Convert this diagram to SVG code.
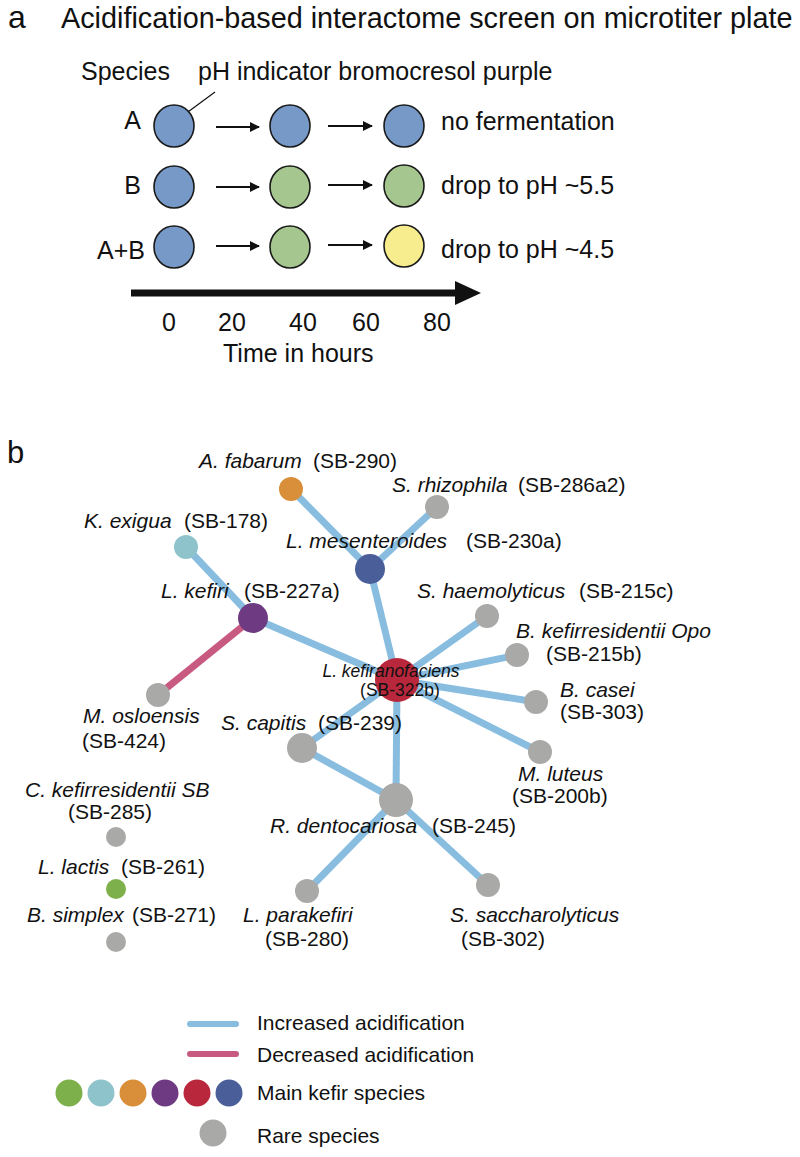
<svg xmlns="http://www.w3.org/2000/svg" width="800" height="1157" viewBox="0 0 800 1157">
<defs>
<style>
text{font-family:"Liberation Sans",Arial,sans-serif;fill:#111}
.t{font-size:25px}
.g{font-size:21px}
.i{font-style:italic}
.well{stroke:#1a1a1a;stroke-width:1.6}
.blue{fill:#7799c8}.green{fill:#a6c68f}.yellow{fill:#f7ec8e}
.inc{stroke:#88bde0;stroke-width:7;fill:none}
.dec{stroke:#c85a82;stroke-width:7;fill:none}
.sm{stroke:#111;stroke-width:2}
.rare{fill:#a9a9a7}
</style>
<marker id="ah" viewBox="0 0 10 10" refX="9" refY="5" markerWidth="5" markerHeight="5" orient="auto" markerUnits="strokeWidth">
<path d="M0,0 L10,5 L0,10 z" fill="#111"/>
</marker>
</defs>
<rect width="800" height="1157" fill="#fff"/>

<!-- Panel a -->
<g id="panel-a">
<text x="8" y="28" style="font-size:32px">a</text>
<text x="61" y="28" style="font-size:28.8px">Acidification-based interactome screen on microtiter plate</text>
<text class="t" x="81" y="80">Species</text>
<text class="t" x="198" y="80">pH indicator bromocresol purple</text>
<line x1="215" y1="92" x2="173" y2="123" stroke="#111" stroke-width="1.2"/>
</g>

<g id="row-A">
<text class="t" x="141" y="129" text-anchor="end">A</text>
<ellipse class="well blue" cx="174" cy="126" rx="20" ry="21"/>
<ellipse class="well blue" cx="290" cy="126" rx="20" ry="21"/>
<ellipse class="well blue" cx="404" cy="126" rx="20" ry="21"/>
<text class="t" x="441" y="130">no fermentation</text>
</g>
<g id="row-B">
<text class="t" x="141" y="194" text-anchor="end">B</text>
<ellipse class="well blue" cx="174" cy="187" rx="20" ry="21"/>
<ellipse class="well green" cx="290" cy="187" rx="20" ry="21"/>
<ellipse class="well green" cx="404" cy="186" rx="20" ry="21"/>
<text class="t" x="441" y="194">drop to pH ~5.5</text>
</g>
<g id="row-AB">
<text class="t" x="145" y="259" text-anchor="end">A+B</text>
<ellipse class="well blue" cx="174" cy="247" rx="20" ry="21"/>
<ellipse class="well green" cx="290" cy="247" rx="20" ry="21"/>
<ellipse class="well yellow" cx="404" cy="246" rx="20" ry="21"/>
<text class="t" x="441" y="258">drop to pH ~4.5</text>
</g>
<g id="row-arrows">
<line class="sm" x1="216" y1="127" x2="259" y2="127" marker-end="url(#ah)"/>
<line class="sm" x1="328" y1="126" x2="372" y2="126" marker-end="url(#ah)"/>
<line class="sm" x1="216" y1="187" x2="259" y2="187" marker-end="url(#ah)"/>
<line class="sm" x1="328" y1="185" x2="372" y2="185" marker-end="url(#ah)"/>
<line class="sm" x1="216" y1="246" x2="259" y2="246" marker-end="url(#ah)"/>
<line class="sm" x1="328" y1="245" x2="372" y2="245" marker-end="url(#ah)"/>
</g>
<g id="time-axis">
<line x1="131" y1="293" x2="458" y2="293" stroke="#111" stroke-width="7"/>
<polygon points="455,281 481,293 455,305" fill="#111"/>
<text class="t" x="169" y="331" text-anchor="middle">0</text>
<text class="t" x="232" y="331" text-anchor="middle">20</text>
<text class="t" x="303" y="331" text-anchor="middle">40</text>
<text class="t" x="366" y="331" text-anchor="middle">60</text>
<text class="t" x="437" y="331" text-anchor="middle">80</text>
<text class="t" x="223" y="362">Time in hours</text>
</g>

<!-- Panel b -->
<text x="7" y="463" style="font-size:31px">b</text>

<g id="connectors">
<line class="inc" x1="291" y1="489" x2="370" y2="569"/>
<line class="inc" x1="437" y1="507" x2="370" y2="569"/>
<line class="inc" x1="186" y1="547" x2="253" y2="618"/>
<line class="inc" x1="253" y1="618" x2="397" y2="680"/>
<line class="inc" x1="370" y1="569" x2="397" y2="680"/>
<line class="dec" x1="158" y1="695" x2="253" y2="618"/>
<line class="inc" x1="397" y1="680" x2="487" y2="616"/>
<line class="inc" x1="397" y1="680" x2="517" y2="655"/>
<line class="inc" x1="397" y1="680" x2="536" y2="702"/>
<line class="inc" x1="397" y1="680" x2="540" y2="752"/>
<line class="inc" x1="397" y1="680" x2="302" y2="748"/>
<line class="inc" x1="397" y1="680" x2="396" y2="800"/>
<line class="inc" x1="302" y1="748" x2="396" y2="800"/>
<line class="inc" x1="396" y1="800" x2="307" y2="891"/>
<line class="inc" x1="396" y1="800" x2="488" y2="885"/>
</g>

<g id="n-afabarum">
<circle cx="291" cy="489" r="12" fill="#d98f3a"/>
<text class="g" y="468"><tspan x="199" class="i">A. fabarum</tspan><tspan x="313">(SB-290)</tspan></text>
</g>
<g id="n-srhizophila">
<circle class="rare" cx="437" cy="507" r="12"/>
<text class="g" y="492"><tspan x="392" class="i">S. rhizophila</tspan><tspan x="518">(SB-286a2)</tspan></text>
</g>
<g id="n-kexigua">
<circle cx="186" cy="547" r="12" fill="#8fc3cc"/>
<text class="g" y="528"><tspan x="84" class="i">K. exigua</tspan><tspan x="184">(SB-178)</tspan></text>
</g>
<g id="n-lmesenteroides">
<circle cx="370" cy="569" r="15" fill="#4a5e9a"/>
<text class="g" y="548"><tspan x="286" class="i">L. mesenteroides</tspan><tspan x="466">(SB-230a)</tspan></text>
</g>
<g id="n-lkefiri">
<circle cx="253" cy="618" r="15" fill="#6e3a82"/>
<text class="g" y="598"><tspan x="161" class="i">L. kefiri</tspan><tspan x="244">(SB-227a)</tspan></text>
</g>
<g id="n-mosloensis">
<circle class="rare" cx="158" cy="695" r="12"/>
<text class="g" x="83" y="723" font-style="italic">M. osloensis</text>
<text class="g" x="82" y="748">(SB-424)</text>
</g>
<g id="n-lkefiranofaciens">
<circle cx="397" cy="680" r="22" fill="#b8273b"/>
<text x="391" y="677" text-anchor="middle" style="font-size:17.5px;font-style:italic">L. kefiranofaciens</text>
<text x="400" y="696" text-anchor="middle" style="font-size:17.5px">(SB-322b)</text>
</g>
<g id="n-shaemolyticus">
<circle class="rare" cx="487" cy="616" r="12"/>
<text class="g" y="598"><tspan x="417" class="i">S. haemolyticus</tspan><tspan x="579">(SB-215c)</tspan></text>
</g>
<g id="n-bkefirresidentii-opo">
<circle class="rare" cx="517" cy="655" r="12"/>
<text class="g i" x="516" y="638">B. kefirresidentii Opo</text>
<text class="g" x="546" y="661">(SB-215b)</text>
</g>
<g id="n-bcasei">
<circle class="rare" cx="536" cy="702" r="12"/>
<text class="g i" x="560" y="697">B. casei</text>
<text class="g" x="560" y="719">(SB-303)</text>
</g>
<g id="n-mluteus">
<circle class="rare" cx="540" cy="752" r="12"/>
<text class="g i" x="518" y="781">M. luteus</text>
<text class="g" x="512" y="803">(SB-200b)</text>
</g>
<g id="n-scapitis">
<circle class="rare" cx="302" cy="748" r="15"/>
<text class="g" y="730"><tspan x="221" class="i">S. capitis</tspan><tspan x="318">(SB-239)</tspan></text>
</g>
<g id="n-rdentocariosa">
<circle class="rare" cx="396" cy="800" r="17"/>
<text class="g" y="833"><tspan x="270" class="i">R. dentocariosa</tspan><tspan x="432">(SB-245)</tspan></text>
</g>
<g id="n-lparakefiri">
<circle class="rare" cx="307" cy="891" r="12"/>
<text class="g i" x="243" y="922">L. parakefiri</text>
<text class="g" x="265" y="946">(SB-280)</text>
</g>
<g id="n-ssaccharolyticus">
<circle class="rare" cx="488" cy="885" r="12"/>
<text class="g i" x="450" y="922">S. saccharolyticus</text>
<text class="g" x="461" y="946">(SB-302)</text>
</g>
<g id="n-ckefirresidentii-sb">
<circle class="rare" cx="116" cy="837" r="10"/>
<text class="g i" x="25" y="797">C. kefirresidentii SB</text>
<text class="g" x="68" y="819">(SB-285)</text>
</g>
<g id="n-llactis">
<circle cx="116" cy="889" r="10" fill="#7db04a"/>
<text class="g" y="874"><tspan x="38" class="i">L. lactis</tspan><tspan x="121">(SB-261)</tspan></text>
</g>
<g id="n-bsimplex">
<circle class="rare" cx="116" cy="942" r="10"/>
<text class="g" y="922"><tspan x="27" class="i">B. simplex</tspan><tspan x="132">(SB-271)</tspan></text>
</g>

<g id="legend">
<line x1="190" y1="1024" x2="236" y2="1024" stroke="#88bde0" stroke-width="6" stroke-linecap="round"/>
<text class="g" x="257" y="1030">Increased acidification</text>
<line x1="190" y1="1054" x2="236" y2="1054" stroke="#c85a82" stroke-width="6" stroke-linecap="round"/>
<text class="g" x="257" y="1062">Decreased acidification</text>
<circle cx="69" cy="1093" r="13.5" fill="#7db04a"/>
<circle cx="101" cy="1093" r="13.5" fill="#8fc3cc"/>
<circle cx="133" cy="1093" r="13.5" fill="#d98f3a"/>
<circle cx="165" cy="1093" r="13.5" fill="#6e3a82"/>
<circle cx="197" cy="1093" r="13.5" fill="#b8273b"/>
<circle cx="229" cy="1093" r="13.5" fill="#4a5e9a"/>
<text class="g" x="257" y="1100">Main kefir species</text>
<circle class="rare" cx="213" cy="1133" r="13.5"/>
<text class="g" x="257" y="1143">Rare species</text>
</g>
</svg>
